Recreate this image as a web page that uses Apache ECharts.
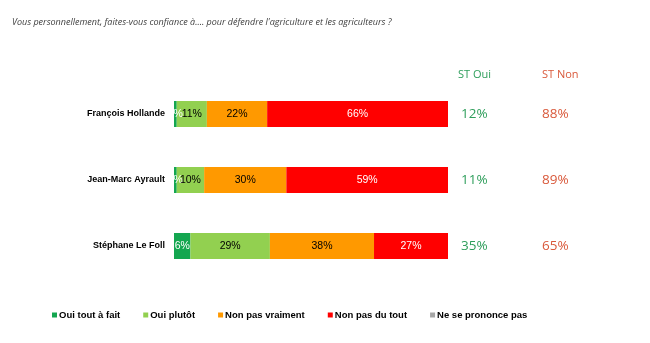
<!DOCTYPE html>
<html><head><meta charset="utf-8">
<script src="https://cdn.jsdelivr.net/npm/echarts@6/dist/echarts.min.js"></script>
<style>html,body{margin:0;padding:0;background:#fff}#c{width:650px;height:343px}</style>
</head><body><div id="c"></div>
<script>
var titleText = "Vous personnellement, faites-vous confiance à.... pour défendre l'agriculture et les agriculteurs ?";
var categories = ["François Hollande", "Jean-Marc Ayrault", "Stéphane Le Foll"];
var ouiToutAFait = [1, 1, 6];
var ouiPlutot = [11, 10, 29];
var nonPasVraiment = [22, 30, 38];
var nonPasDuTout = [66, 59, 27];
var nePrononcePas = [0, 0, 0];
var stOui = [12, 11, 35];
var stNon = [88, 89, 65];
var seriesNames = ["Oui tout à fait", "Oui plutôt", "Non pas vraiment", "Non pas du tout", "Ne se prononce pas"];
var colors = ["#14a650", "#92d050", "#ff9900", "#ff0000", "#a6a6a6"];
var labelColors = ["#ffffff", "#000000", "#000000", "#ffffff", "#000000"];
var values = [ouiToutAFait, ouiPlutot, nonPasVraiment, nonPasDuTout, nePrononcePas];

var chart = echarts.init(document.getElementById('c'), null, {renderer: 'canvas'});
var series = seriesNames.map(function (n, i) {
  return {
    name: n, type: 'bar', stack: 'total', barWidth: 26,
    itemStyle: {color: colors[i]},
    label: {
      show: i < 4, position: 'inside', color: labelColors[i],
      fontFamily: 'Liberation Sans', fontSize: 10.5,
      formatter: function (p) { return p.value > 0 ? p.value + '%' : ''; }
    },
    data: values[i]
  };
});
chart.setOption({
  animation: false,
  color: colors,
  title: {
    text: titleText, left: 12, top: 18, padding: 0,
    textStyle: {fontFamily: 'Open Sans', fontStyle: 'italic', fontWeight: 'normal', fontSize: 9, color: '#404040'}
  },
  legend: {
    left: 52, top: 310, padding: 0, itemWidth: 5, itemHeight: 5, itemGap: 23,
    icon: 'rect',
    textStyle: {fontFamily: 'Liberation Sans', fontWeight: 'bold', fontSize: 9.5, color: '#000', padding: [0, 0, 0, -3]},
    data: seriesNames
  },
  graphic: [
    {type: 'text', left: 458, top: 69, style: {text: 'ST Oui', fill: '#2e9e5b', font: '11px "Open Sans"'}},
    {type: 'text', left: 542, top: 69, style: {text: 'ST Non', fill: '#d9593b', font: '11px "Open Sans"'}}
  ],
  grid: {left: 174, right: 202, top: 81, bottom: 64},
  xAxis: {type: 'value', min: 0, max: 100, show: false},
  yAxis: [{
    type: 'category', data: categories, inverse: true,
    axisLine: {show: false}, axisTick: {show: false},
    axisLabel: {margin: 9, fontFamily: 'Liberation Sans', fontWeight: 'bold', fontSize: 9, color: '#000'}
  }, {
    type: 'category', data: categories, inverse: true, position: 'right',
    axisLine: {show: false}, axisTick: {show: false},
    axisLabel: {
      margin: 13, align: 'left',
      formatter: function (v, idx) { return '{a|' + stOui[idx] + '%}{b|' + stNon[idx] + '%}'; },
      rich: {
        a: {fontFamily: 'Open Sans', fontSize: 13.5, color: '#2e9e5b', width: 81},
        b: {fontFamily: 'Open Sans', fontSize: 13.5, color: '#d9593b'}
      }
    }
  }],
  series: series
});
</script></body></html>
